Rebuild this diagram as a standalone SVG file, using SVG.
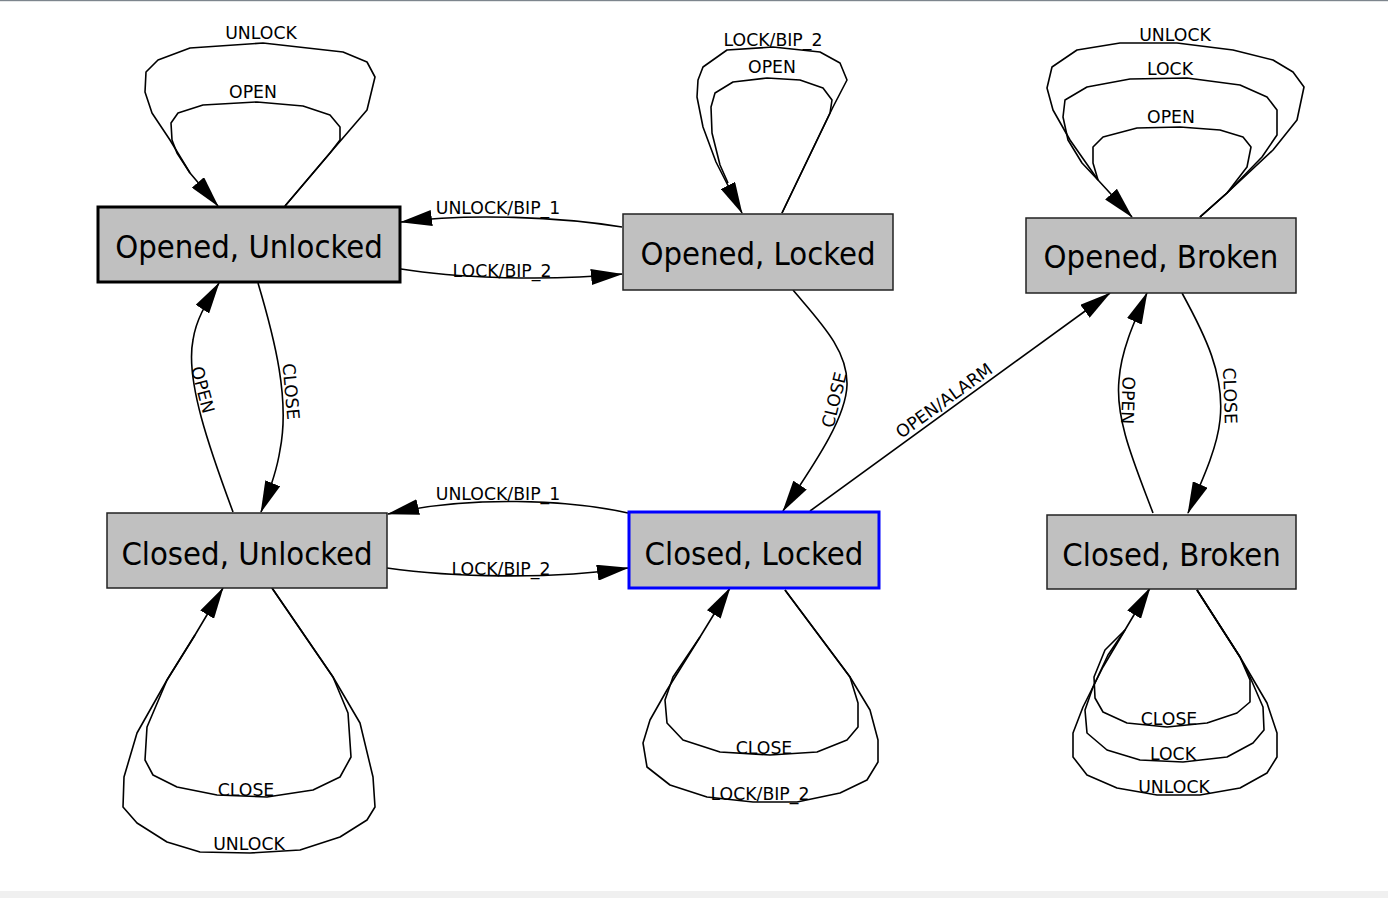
<svg xmlns="http://www.w3.org/2000/svg" width="1388" height="898" viewBox="0 0 1388 898">
<style>
.node rect{fill:#c0c0c0;stroke:#222;stroke-width:1.5}
.node text{font-family:"DejaVu Sans Condensed","DejaVu Sans",sans-serif;font-size:32.5px;text-anchor:middle;fill:#000}
#edges path{fill:none;stroke:#000;stroke-width:1.6;stroke-linejoin:round}
#edges path.a{marker-end:url(#arr)}
#edges text{font-family:"DejaVu Sans",sans-serif;font-size:17.3px;text-anchor:middle;fill:#000}
</style>
<defs>
<marker id="arr" viewBox="0 0 32 16" refX="31" refY="8" markerWidth="32" markerHeight="16" markerUnits="userSpaceOnUse" orient="auto">
<path d="M0,0 L32,8 L0,16 z" fill="#000"/>
</marker>
</defs>
<rect x="0" y="891" width="1388" height="7" fill="#f0f0f0"/>
<rect x="0" y="0" width="1388" height="1.2" fill="#7d858d"/>
<g id="edges">
<!-- Opened, Unlocked self loops -->
<path class="a" d="M285,206 L330,153 L367,110 L375,77 L367,62 L343,52 L263,43 L190,48 L158,60 L146,72 L145,92 L152,113 L170,140 L190,173 L218,206"/>
<path d="M285,206 L330,153 L340,140 L340,127 L330,115 L303,106 L257,102 L203,105 L178,113 L171,123 L172,140 L177,153 L190,173"/>
<text x="261" y="39">UNLOCK</text>
<text x="253" y="98">OPEN</text>
<!-- Opened, Locked self loops -->
<path class="a" d="M782,213 L833,107 L847,80 L840,63 L820,52 L773,47 L727,50 L703,67 L698,80 L697,97 L703,127 L716,162 L742,213"/>
<path d="M782,213 L830,113 L832,100 L823,88 L800,80 L767,78 L733,82 L715,93 L711,107 L712,133 L720,165 L728,183"/>
<text x="773" y="46">LOCK/BIP_2</text>
<text x="772" y="73">OPEN</text>
<!-- Opened, Broken self loops -->
<path class="a" d="M1200,217 L1227,193 L1273,150 L1297,120 L1304,87 L1293,72 L1273,60 L1233,50 L1177,43 L1120,43 L1077,50 L1052,67 L1047,88 L1053,110 L1070,140 L1098,180 L1132,217"/>
<path d="M1200,217 L1227,193 L1262,157 L1277,135 L1277,110 L1267,97 L1240,85 L1187,78 L1130,79 L1087,87 L1065,100 L1063,117 L1068,140 L1082,163 L1098,180"/>
<path d="M1200,217 L1227,193 L1247,167 L1251,147 L1243,137 L1220,130 L1180,127 L1137,128 L1103,137 L1093,147 L1093,163 L1098,180"/>
<text x="1175" y="41">UNLOCK</text>
<text x="1170" y="75">LOCK</text>
<text x="1171" y="123">OPEN</text>
<!-- between top nodes -->
<path class="a" d="M622,227 C560,217 470,213 401,222"/>
<text x="498" y="214">UNLOCK/BIP_1</text>
<path class="a" d="M401,269 C450,277 540,282 622,274"/>
<text x="502" y="277">LOCK/BIP_2</text>
<!-- Opened, Unlocked <-> Closed, Unlocked -->
<path class="a" d="M233,512 C210,450 185,380 193,340 C196,320 205,305 219,283"/>
<text transform="translate(195,392) rotate(75)" y="-2">OPEN</text>
<path class="a" d="M258,283 C275,340 290,400 280,450 C277,470 270,490 261,512"/>
<text transform="translate(283,392) rotate(85)" y="-2">CLOSE</text>
<!-- Opened, Locked -> Closed, Locked -->
<path class="a" d="M793,290 C820,322 848,350 847,385 C846,420 810,470 783,511"/>
<text transform="translate(843,402) rotate(-76)" y="-3">CLOSE</text>
<!-- Closed, Locked -> Opened, Broken -->
<path class="a" d="M810,511 L1110,293"/>
<text transform="translate(950,408.7) rotate(-35.9)" y="-4">OPEN/ALARM</text>
<!-- Opened, Broken <-> Closed, Broken -->
<path class="a" d="M1153,513 C1135,465 1115,420 1119,380 C1121,350 1135,320 1147,293"/>
<text transform="translate(1119,400) rotate(92)" y="-3">OPEN</text>
<path class="a" d="M1182,293 C1205,335 1225,375 1220,420 C1217,450 1200,485 1188,513"/>
<text transform="translate(1222,396) rotate(88)" y="-2">CLOSE</text>
<!-- between bottom nodes -->
<path class="a" d="M628,513 C570,500 470,495 388,514"/>
<text x="498" y="500">UNLOCK/BIP_1</text>
<path class="a" d="M387,568 C450,577 550,580 628,568"/>
<text x="501" y="575">LOCK/BIP_2</text>
<!-- Closed, Unlocked self loops -->
<path class="a" d="M272,588 L333,677 L360,723 L373,777 L375,807 L367,820 L340,837 L300,850 L250,853 L200,852 L167,842 L137,823 L123,807 L124,777 L137,733 L167,680 L195,635 L223,588"/>
<path d="M272,588 L333,677 L348,713 L351,757 L340,777 L313,790 L267,797 L217,795 L177,787 L153,775 L145,760 L147,727 L167,680 L195,635"/>
<text x="246" y="796">CLOSE</text>
<text x="249" y="850">UNLOCK</text>
<!-- Closed, Locked self loops -->
<path class="a" d="M785,590 L850,677 L870,710 L878,740 L878,762 L867,780 L840,793 L797,802 L753,802 L707,797 L670,785 L647,767 L643,743 L650,720 L667,690 L700,637 L730,588"/>
<path d="M785,590 L850,677 L858,703 L858,727 L847,740 L817,752 L770,755 L720,752 L683,740 L667,723 L665,700 L673,677 L700,637"/>
<text x="764" y="754">CLOSE</text>
<text x="760" y="800">LOCK/BIP_2</text>
<!-- Closed, Broken self loops -->
<path class="a" d="M1197,590 L1240,657 L1267,703 L1277,733 L1277,757 L1267,773 L1240,788 L1200,795 L1157,795 L1117,788 L1087,775 L1073,757 L1073,733 L1083,707 L1103,667 L1125,630 L1150,588"/>
<path d="M1197,590 L1240,657 L1250,677 L1263,707 L1264,730 L1253,743 L1227,757 L1183,762 L1140,760 L1107,750 L1087,733 L1085,710 L1093,687 L1108,655 L1125,630"/>
<path d="M1197,590 L1240,657 L1250,680 L1250,702 L1237,713 L1207,723 L1167,727 L1127,723 L1103,712 L1095,698 L1094,677 L1105,650 L1125,630"/>
<text x="1169" y="725">CLOSE</text>
<text x="1173" y="760">LOCK</text>
<text x="1174" y="793">UNLOCK</text>
</g>
<g id="n_opened_unlocked" class="node"><rect x="98" y="207" width="302" height="75" style="stroke:#000;stroke-width:3"/><text x="249" y="258">Opened, Unlocked</text></g>
<g id="n_opened_locked" class="node"><rect x="623" y="214" width="270" height="76"/><text x="758" y="265">Opened, Locked</text></g>
<g id="n_opened_broken" class="node"><rect x="1026" y="218" width="270" height="75"/><text x="1161" y="268">Opened, Broken</text></g>
<g id="n_closed_unlocked" class="node"><rect x="107" y="513" width="280" height="75"/><text x="247" y="565">Closed, Unlocked</text></g>
<g id="n_closed_locked" class="node"><rect x="629" y="512" width="250" height="76" style="stroke:#0000ff;stroke-width:3"/><text x="754" y="565">Closed, Locked</text></g>
<g id="n_closed_broken" class="node"><rect x="1047" y="515" width="249" height="74"/><text x="1171.5" y="566">Closed, Broken</text></g>
</svg>
